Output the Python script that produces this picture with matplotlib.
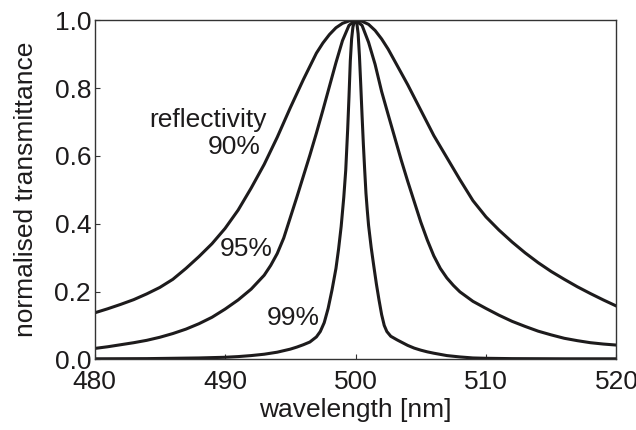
import matplotlib
matplotlib.use("Agg")
import matplotlib.pyplot as plt

plt.rcParams['font.family'] = ['Liberation Sans', 'DejaVu Sans']

# reflectivity 90 %
x90 = [480, 481, 482, 483, 484, 485, 486, 487, 488, 489, 490, 491, 492, 493, 494,
       495, 496, 497, 497.5, 498, 498.5, 499, 499.5, 500, 500.5, 501, 501.5, 502,
       502.5, 503, 504, 505, 506, 507, 508, 509, 510, 511, 512, 513, 514, 515, 516,
       517, 518, 519, 520]
y90 = [0.137, 0.149, 0.162, 0.176, 0.193, 0.212, 0.236, 0.268, 0.303, 0.341, 0.386,
       0.440, 0.505, 0.575, 0.655, 0.742, 0.825, 0.903, 0.933, 0.958, 0.978, 0.991,
       0.998, 1.000, 0.997, 0.988, 0.970, 0.945, 0.915, 0.880, 0.810, 0.735, 0.660,
       0.595, 0.530, 0.468, 0.420, 0.381, 0.346, 0.314, 0.285, 0.259, 0.236, 0.214,
       0.194, 0.175, 0.157]

# reflectivity 95 %
x95 = [480, 481, 482, 483, 484, 485, 486, 487, 488, 489, 490, 491, 492, 493, 493.5,
       494, 494.5, 495, 495.5, 496, 496.5, 497, 497.5, 498, 498.5, 499, 499.5, 500,
       500.5, 501, 501.5, 502, 502.5, 503, 503.5, 504, 504.5, 505, 505.5, 506, 506.5,
       507, 507.5, 508, 509, 510, 511, 512, 513, 514, 515, 516, 517, 518, 519, 520]
y95 = [0.032, 0.037, 0.043, 0.049, 0.056, 0.065, 0.076, 0.089, 0.105, 0.124, 0.148,
       0.175, 0.207, 0.248, 0.277, 0.312, 0.358, 0.418, 0.478, 0.540, 0.602, 0.667,
       0.735, 0.805, 0.875, 0.940, 0.985, 1.000, 0.985, 0.935, 0.870, 0.790, 0.722,
       0.655, 0.588, 0.525, 0.465, 0.405, 0.352, 0.305, 0.268, 0.240, 0.218, 0.199,
       0.171, 0.150, 0.130, 0.112, 0.097, 0.083, 0.072, 0.062, 0.055, 0.049, 0.045,
       0.042]

# reflectivity 99 %
x99 = [480, 484, 486, 488, 489, 490, 491, 492, 493, 494, 495, 495.5, 496, 496.5, 497,
       497.3, 497.6, 497.9, 498.2, 498.5, 498.7, 498.9, 499.1, 499.25, 499.4, 499.5,
       499.6, 499.7, 499.8, 499.9, 500, 500.1, 500.2, 500.3, 500.4, 500.5, 500.6,
       500.7, 500.8, 500.9, 501.0, 501.2, 501.4, 501.6, 501.8, 502.0, 502.2, 502.4,
       502.7, 503.2, 503.6, 504, 504.5, 505, 505.5, 506, 507, 508, 509, 510, 512,
       516, 520]
y99 = [0.0015, 0.002, 0.003, 0.004, 0.005, 0.006, 0.008, 0.011, 0.015, 0.021, 0.030,
       0.036, 0.043, 0.051, 0.066, 0.082, 0.108, 0.150, 0.205, 0.268, 0.325, 0.392,
       0.478, 0.558, 0.680, 0.775, 0.880, 0.945, 0.980, 0.995, 1.000, 0.992, 0.960,
       0.895, 0.810, 0.720, 0.635, 0.560, 0.490, 0.440, 0.395, 0.330, 0.275, 0.222,
       0.175, 0.132, 0.100, 0.082, 0.068, 0.057, 0.049, 0.041, 0.033, 0.027, 0.022,
       0.018, 0.011, 0.007, 0.004, 0.003, 0.002, 0.0015, 0.0015]

xticks = [480, 490, 500, 510, 520]
yticks = [0.0, 0.2, 0.4, 0.6, 0.8, 1.0]

fig = plt.figure(figsize=(6.36, 4.30), dpi=100)
ax = fig.add_axes([0.1487, 0.1644, 0.8206, 0.7884])

lc = '#1d1b1c'
for xs, ys in [(x90, y90), (x95, y95), (x99, y99)]:
    ax.plot(xs, ys, color=lc, lw=2.2, solid_joinstyle='round', solid_capstyle='round')

ax.set_xlim(480, 520)
ax.set_ylim(0, 1)
ax.set_xticks(xticks)
ax.set_yticks(yticks)
ax.set_xticklabels([str(t) for t in xticks])
ax.set_yticklabels([f"{t:.1f}" for t in yticks])
ax.tick_params(axis='both', direction='in', length=3.6, width=0.8, color='#333333',
               labelsize=19, labelcolor='#1d1b1c')
ax.tick_params(axis='x', pad=7.5)
ax.tick_params(axis='y', pad=2.5)
for s in ax.spines.values():
    s.set_linewidth(1.0)
    s.set_color('#333333')

ax.set_xlabel('wavelength [nm]', fontsize=19, color='#1d1b1c', labelpad=3)
ax.set_ylabel('normalised transmittance', fontsize=19, color='#1d1b1c', labelpad=12)

tc = '#1d1b1c'
ax.text(493.2, 0.684, 'reflectivity', fontsize=19, ha='right', va='baseline', color=tc)
ax.text(492.75, 0.606, '90%', fontsize=19, ha='right', va='baseline', color=tc)
ax.text(491.6, 0.304, '95%', fontsize=19, ha='center', va='baseline', color=tc)
ax.text(495.23, 0.101, '99%', fontsize=19, ha='center', va='baseline', color=tc)

fig.savefig('out.png', dpi=100)
